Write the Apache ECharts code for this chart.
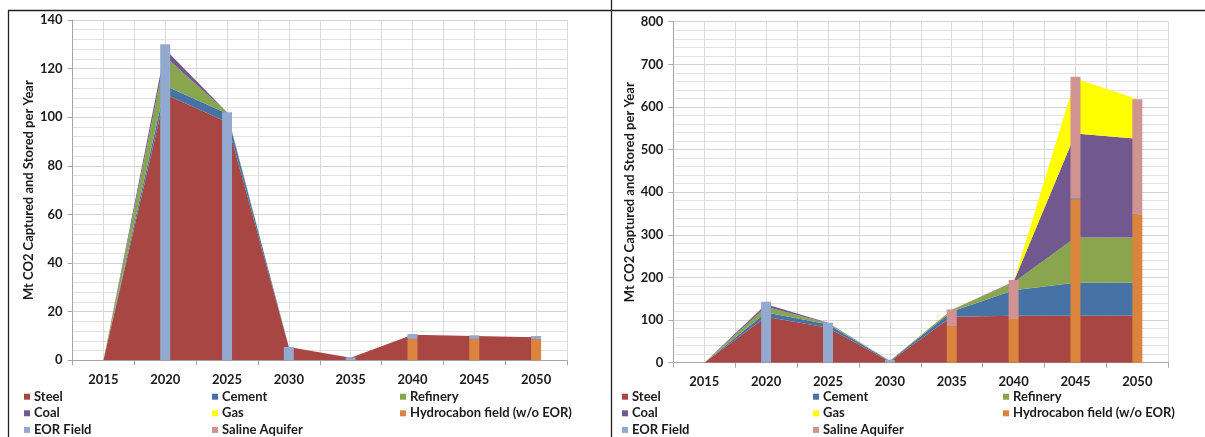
<!DOCTYPE html>
<html>
<head>
<meta charset="utf-8">
<script src="https://cdn.jsdelivr.net/npm/echarts@6/dist/echarts.min.js"></script>
<style>html,body{margin:0;padding:0;background:#fff;}#c{width:1205px;height:437px;}</style>
</head>
<body>
<div id="c"></div>
<script>
// ---- data ----
const categories = ['2015','2020','2025','2030','2035','2040','2045','2050'];

// Left chart (Mt CO2)
const leftSteel    = [0, 109.5, 98, 5.5, 1, 10.5, 10, 9.5];
const leftCement   = [0, 3.5, 3.5, 0, 0, 0, 0, 0];
const leftRefinery = [0, 12, 0.5, 0, 0, 0, 0, 0];
const leftCoal     = [0, 3, 0, 0, 0, 0, 0, 0];
const leftGas      = [0, 0, 0, 0, 0, 0, 0, 0];
const leftHydro    = [0, 0, 0, 0, 0, 8.8, 8.8, 8.8];
const leftEOR      = [0, 130, 102, 5.5, 1.2, 2, 1.5, 1.2];
const leftSaline   = [0, 0, 0, 0, 0, 0, 0, 0];

// Right chart (Mt CO2)
const rightSteel    = [0, 108, 82, 3, 108, 110, 110, 110];
const rightCement   = [0, 10, 8, 1, 12, 60, 77.7, 77.7];
const rightRefinery = [0, 13, 2.5, 0.5, 4, 18, 106.3, 106.3];
const rightCoal     = [0, 6, 1, 0, 0, 2, 244, 231.5];
const rightGas      = [0, 0, 0, 0, 0, 0, 129, 92.5];
const rightHydro    = [0, 0, 0, 0, 86, 102.5, 383, 348];
const rightEOR      = [0, 143, 94, 7, 0, 0, 2, 0];
const rightSaline   = [0, 0, 0, 0, 39, 91.5, 286, 270];

const leftTicks = [0, 20, 40, 60, 80, 100, 120, 140];
const rightTicks = [0, 100, 200, 300, 400, 500, 600, 700, 800];

// ---- styling ----
const FONT = 'Lato';
const FS = 13;
const TXT = '#1a1a1a';
const colors = {
  'Steel': '#A84644',
  'Cement': '#4672A6',
  'Refinery': '#89A54E',
  'Coal': '#71588F',
  'Gas': '#FFFF00',
  'Hydrocabon field (w/o EOR)': '#DB843D',
  'EOR Field': '#93A9CF',
  'Saline Aquifer': '#D19392'
};

const chart = echarts.init(document.getElementById('c'), null, {renderer: 'canvas'});

function yAxis(gi, max, interval, gap) {
  return {
    type: 'value', gridIndex: gi, min: 0, max: max, interval: interval,
    name: 'Mt CO2 Captured and Stored per Year', nameLocation: 'middle', nameGap: gap,
    nameTextStyle: {fontFamily: FONT, fontWeight: 'bold', fontSize: FS, color: TXT},
    axisLine: {show: true, lineStyle: {color: '#A6A6A6'}},
    axisTick: {show: true, length: 5, lineStyle: {color: '#A6A6A6'}},
    axisLabel: {fontFamily: FONT, fontWeight: 'bold', fontSize: FS, color: TXT, margin: 10},
    splitLine: {show: true, lineStyle: {color: '#D4D4D4'}},
    minorTick: {show: false, splitNumber: 5},
    minorSplitLine: {show: true, lineStyle: {color: '#E2E2E2'}}
  };
}
function xAxis(gi) {
  return {
    type: 'category', gridIndex: gi, data: categories, boundaryGap: true,
    axisLine: {show: true, lineStyle: {color: '#A6A6A6'}},
    axisTick: {show: true, length: 5, alignWithLabel: false, lineStyle: {color: '#A6A6A6'}},
    axisLabel: {fontFamily: FONT, fontWeight: 'bold', fontSize: FS, color: TXT, margin: 13},
    splitLine: {show: false}
  };
}
function gridXAxis(gi) {
  return {
    type: 'value', gridIndex: gi, min: 0, max: categories.length * 2, interval: 1,
    position: 'top', axisLine: {show: false}, axisTick: {show: false}, axisLabel: {show: false},
    splitLine: {show: true, lineStyle: {color: '#DADADA'}}, silent: true, z: 0
  };
}

function areaSeries(name, data, xi, yi) {
  return {
    name: name, type: 'line', xAxisIndex: xi, yAxisIndex: yi, stack: 'area' + yi,
    data: data, showSymbol: false, symbol: 'none', smooth: false,
    lineStyle: {width: 0, color: colors[name]},
    itemStyle: {color: colors[name]},
    areaStyle: {color: colors[name], opacity: 1}, z: 2
  };
}
function barSeries(name, data, xi, yi) {
  return {
    name: name, type: 'bar', xAxisIndex: xi, yAxisIndex: yi, stack: 'bar' + yi,
    data: data, barWidth: 10, itemStyle: {color: colors[name]}, z: 3
  };
}

function legendCol(names, left, top) {
  return {
    data: names, orient: 'vertical', left: left, top: top,
    icon: 'rect', itemWidth: 6, itemHeight: 6, itemGap: 3.6,
    selectedMode: false, padding: 0,
    textStyle: {fontFamily: FONT, fontWeight: 'bold', fontSize: FS, color: TXT, padding: [0, 0, 0, -1]}
  };
}

const legTop = 390.2;

const option = {
  animation: false,
  backgroundColor: '#fff',
  grid: [
    {left: 72.5, width: 494.5, top: 20, height: 340.3},
    {left: 673.3, width: 495, top: 21.7, height: 341}
  ],
  xAxis: [xAxis(0), xAxis(1), gridXAxis(0), gridXAxis(1)],
  yAxis: [yAxis(0, leftTicks[leftTicks.length - 1], leftTicks[1] - leftTicks[0], 37),
          yAxis(1, rightTicks[rightTicks.length - 1], rightTicks[1] - rightTicks[0], 33)],
  legend: [
    legendCol(['Steel', 'Coal', 'EOR Field'], 24, legTop),
    legendCol(['Cement', 'Gas', 'Saline Aquifer'], 212, legTop),
    legendCol(['Refinery', 'Hydrocabon field (w/o EOR)'], 400, legTop),
    legendCol(['Steel', 'Coal', 'EOR Field'], 622, legTop),
    legendCol(['Cement', 'Gas', 'Saline Aquifer'], 813, legTop),
    legendCol(['Refinery', 'Hydrocabon field (w/o EOR)'], 1003, legTop)
  ],
  series: [
    areaSeries('Steel', leftSteel, 0, 0),
    areaSeries('Cement', leftCement, 0, 0),
    areaSeries('Refinery', leftRefinery, 0, 0),
    areaSeries('Coal', leftCoal, 0, 0),
    areaSeries('Gas', leftGas, 0, 0),
    barSeries('Hydrocabon field (w/o EOR)', leftHydro, 0, 0),
    barSeries('EOR Field', leftEOR, 0, 0),
    barSeries('Saline Aquifer', leftSaline, 0, 0),
    areaSeries('Steel', rightSteel, 1, 1),
    areaSeries('Cement', rightCement, 1, 1),
    areaSeries('Refinery', rightRefinery, 1, 1),
    areaSeries('Coal', rightCoal, 1, 1),
    areaSeries('Gas', rightGas, 1, 1),
    barSeries('Hydrocabon field (w/o EOR)', rightHydro, 1, 1),
    barSeries('EOR Field', rightEOR, 1, 1),
    barSeries('Saline Aquifer', rightSaline, 1, 1)
  ],
  graphic: [
    {type: 'line', shape: {x1: 8, y1: 10.5, x2: 1205, y2: 10.5}, style: {stroke: '#222', lineWidth: 1.3}, silent: true},
    {type: 'line', shape: {x1: 8.5, y1: 10.5, x2: 8.5, y2: 437}, style: {stroke: '#222', lineWidth: 1.3}, silent: true},
    {type: 'line', shape: {x1: 611.5, y1: 0, x2: 611.5, y2: 437}, style: {stroke: '#222', lineWidth: 1.3}, silent: true}
  ]
};
chart.setOption(option);
</script>
</body>
</html>
